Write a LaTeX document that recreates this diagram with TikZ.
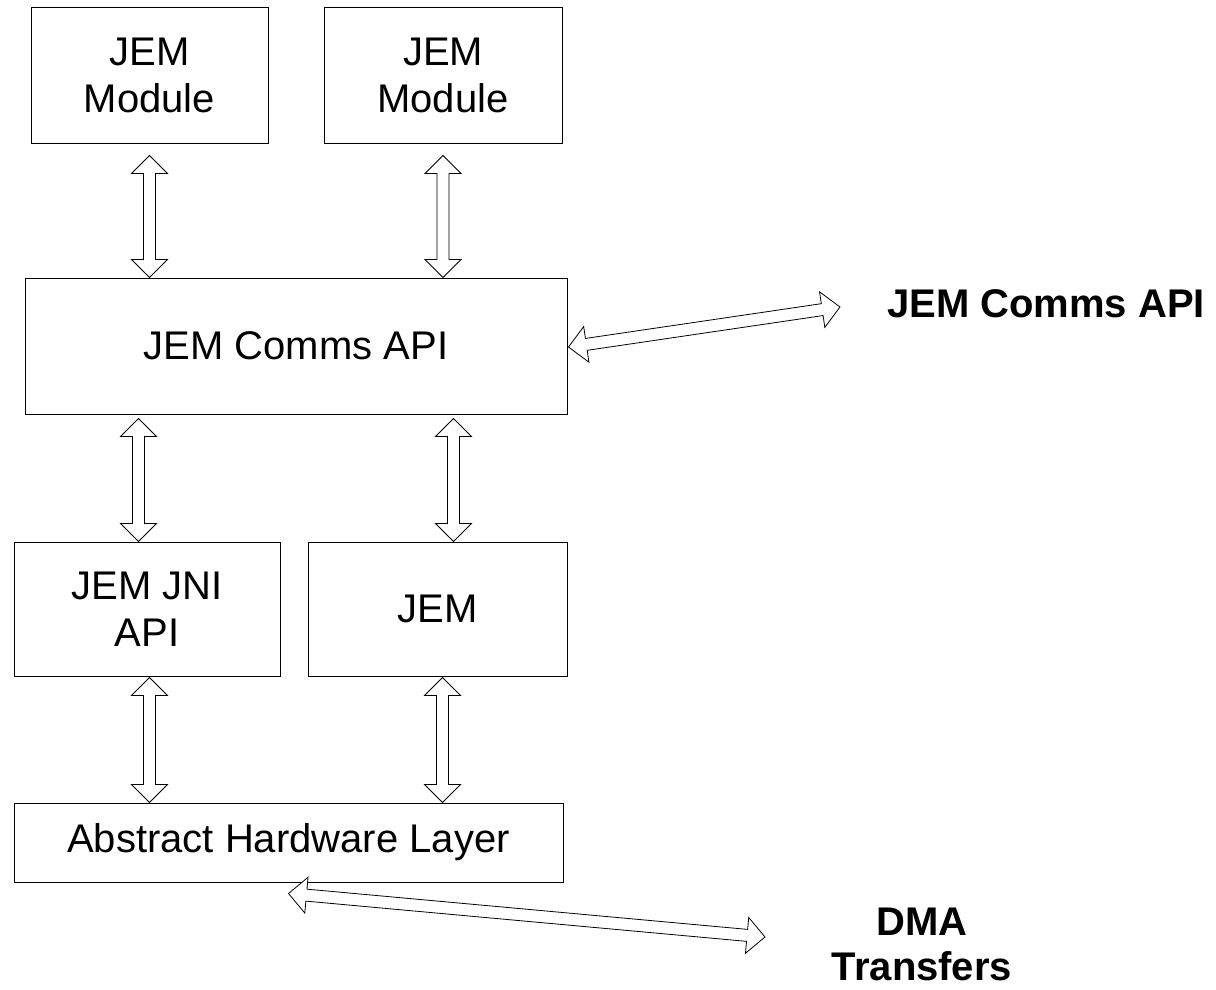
\documentclass[tikz,border=0pt]{standalone}
\usepackage{fontspec}
\setmainfont{Liberation Sans}
\usetikzlibrary{calc}
\newcommand\blockarr[2]{%
  \draw[barrow] (#1)
    -- ($(#1)!18pt!(#2)!18pt!90:(#2)$)
    -- ($(#1)!18pt!(#2)!6pt!90:(#2)$)
    -- ($(#2)!18pt!(#1)!6pt!-90:(#1)$)
    -- ($(#2)!18pt!(#1)!18pt!-90:(#1)$)
    -- (#2)
    -- ($(#2)!18pt!(#1)!18pt!90:(#1)$)
    -- ($(#2)!18pt!(#1)!6pt!90:(#1)$)
    -- ($(#1)!18pt!(#2)!6pt!-90:(#2)$)
    -- ($(#1)!18pt!(#2)!18pt!-90:(#2)$)
    -- cycle;}
\tikzset{
  box/.style={draw, line width=1pt, align=center, inner sep=0pt,
    font=\fontsize{40}{47}\selectfont},
  barrow/.style={draw, line width=0.8pt, fill=white, line join=miter},
  lbl/.style={align=center, inner sep=0pt,
    font=\fontsize{40}{45}\selectfont\bfseries}
}
\begin{document}
\begin{tikzpicture}[x=1pt, y=-1pt]
\useasboundingbox (0,0) rectangle (1216,989);
% boxes
\node[box, minimum width=237pt, minimum height=136pt] (m1) at (149.5,75) {JEM\\Module};
\node[box, minimum width=238pt, minimum height=136pt] (m2) at (443,75) {JEM\\Module};
\node[box, minimum width=542pt, minimum height=136pt] (comms) at (296,346) {JEM Comms API};
\node[box, minimum width=266pt, minimum height=134pt] (jni) at (147,609) {JEM JNI\\API};
\node[box, minimum width=259pt, minimum height=134pt] (jem) at (437.5,609) {JEM};
\node[box, minimum width=549pt, minimum height=79pt] (ahl) at (288.5,842.5) {Abstract Hardware Layer};
% labels
\node[lbl] (lcomms) at (1046,304) {JEM Comms API};
\node[lbl] (ldma) at (922,944) {DMA\\Transfers};
% arrow end points
\coordinate (a1t) at ($(m1.south)+(0,12)$);
\coordinate (a1b) at (m1.south |- comms.north);
\coordinate (a2t) at ($(m2.south)+(0,12)$);
\coordinate (a2b) at (m2.south |- comms.north);
\coordinate (a3t) at ($(comms.south west)+(114,4)$);
\coordinate (a3b) at (a3t |- jni.north);
\coordinate (a4t) at ($(comms.south west)+(429,4)$);
\coordinate (a4b) at (a4t |- jem.north);
\coordinate (a5t) at ($(jni.south west)+(136,1)$);
\coordinate (a5b) at (a5t |- ahl.north);
\coordinate (a6t) at ($(jem.south west)+(135,1)$);
\coordinate (a6b) at (a6t |- ahl.north);
\coordinate (s1l) at ($(comms.east)+(1,1)$);
\coordinate (s1r) at (840,307);
\coordinate (s2l) at ($(ahl.south)+(0,11)$);
\coordinate (s2r) at (765,937);
% arrows
\blockarr{a1t}{a1b}
\blockarr{a2t}{a2b}
\blockarr{a3t}{a3b}
\blockarr{a4t}{a4b}
\blockarr{a5t}{a5b}
\blockarr{a6t}{a6b}
\blockarr{s1l}{s1r}
\blockarr{s2l}{s2r}
\end{tikzpicture}
\end{document}
